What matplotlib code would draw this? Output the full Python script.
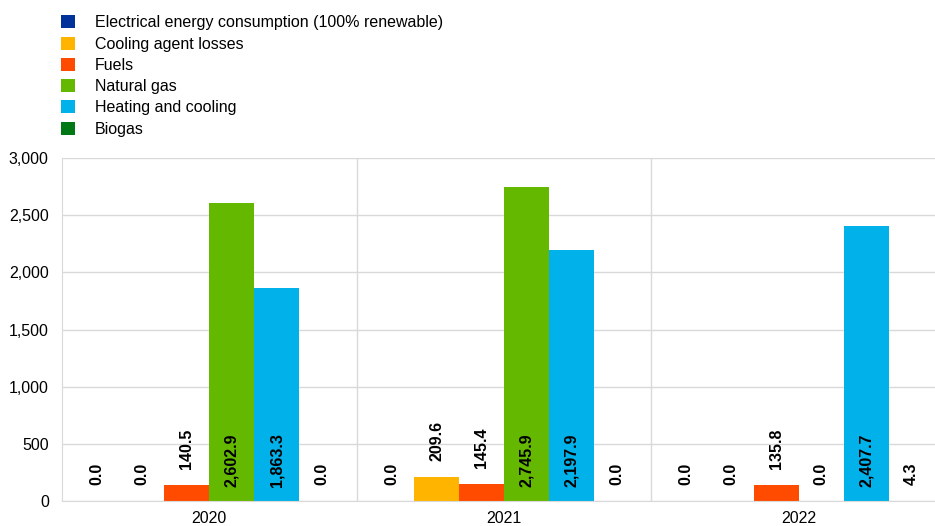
import matplotlib
matplotlib.use("Agg")
import matplotlib.pyplot as plt
from matplotlib.patches import Patch
import numpy as np

plt.rcParams['font.family'] = ['Liberation Sans', 'DejaVu Sans']

years = ["2020", "2021", "2022"]
series_names = ["Electrical energy consumption (100% renewable)", "Cooling agent losses",
                "Fuels", "Natural gas", "Heating and cooling", "Biogas"]
electrical = [0.0, 0.0, 0.0]
cooling_losses = [0.0, 209.6, 0.0]
fuels = [140.5, 145.4, 135.8]
natural_gas = [2602.9, 2745.9, 0.0]
heating_cooling = [1863.3, 2197.9, 2407.7]
biogas = [0.0, 0.0, 4.3]
colors = ["#003299", "#FFB400", "#FF4B00", "#65B800", "#00B1EA", "#007816"]

all_series = [electrical, cooling_losses, fuels, natural_gas, heating_cooling, biogas]

W, H = 935, 526
fig = plt.figure(figsize=(W / 100, H / 100), dpi=100)
ax = fig.add_axes([62 / W, 1 - 501 / H, (946 - 62) / W, (501 - 158) / H])

x = np.arange(len(years))
bw = 45 / 294.7
for i, (vals, c) in enumerate(zip(all_series, colors)):
    pos = x + (i - 2.5) * bw
    ax.bar(pos, vals, width=bw, color=c, zorder=2)
    for xp, v in zip(pos, vals):
        label = f"{v:,.1f}"
        if v > 1000:
            ax.annotate(label, (xp, 0), xytext=(0, 14), textcoords='offset pixels',
                        rotation=90, ha='center', va='bottom', fontsize=11.5,
                        fontweight='bold', zorder=3)
        else:
            ax.annotate(label, (xp, v), xytext=(0, 16), textcoords='offset pixels',
                        rotation=90, ha='center', va='bottom', fontsize=11.5,
                        fontweight='bold', zorder=3)

ax.set_xlim(-0.5, 2.5)
ax.set_ylim(0, 3000)
ax.set_yticks(np.arange(0, 3001, 500))
ax.set_yticklabels([f"{v:,}" for v in range(0, 3001, 500)])
ax.set_xticks(x)
ax.set_xticklabels(years)
ax.tick_params(axis='both', length=0, labelsize=11.5, colors='black')
ax.tick_params(axis='y', pad=9.5)
ax.tick_params(axis='x', pad=7)
ax.grid(axis='y', color='#D9D9D9', linewidth=1, zorder=0)
for xv in [0.5, 1.5]:
    ax.axvline(xv, color='#D9D9D9', linewidth=1, zorder=0)
for s in ['top', 'right']:
    ax.spines[s].set_visible(False)
ax.spines['left'].set_color('#D9D9D9')
ax.spines['bottom'].set_color('#D9D9D9')

handles = [Patch(facecolor=c, edgecolor='none') for c in colors]
fig.legend(handles, series_names, loc='upper left', bbox_to_anchor=(55 / W, 1 - 9 / H),
           frameon=False, fontsize=11.5, handlelength=0.875, handleheight=0.875,
           handletextpad=1.2, labelspacing=0.39, borderaxespad=0)

fig.savefig("out.png", dpi=100)
